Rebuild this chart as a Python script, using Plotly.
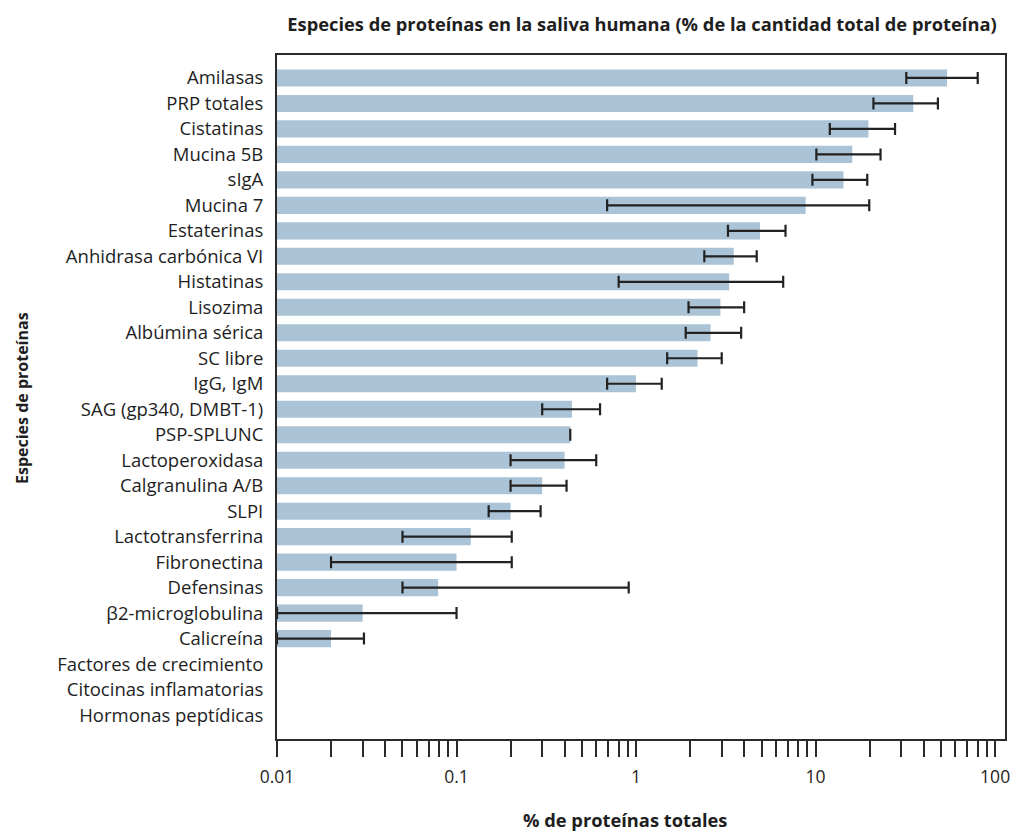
import plotly.graph_objects as go

# Protein species in human saliva (% of total protein)
especies = [
    "Amilasas", "PRP totales", "Cistatinas", "Mucina 5B", "sIgA", "Mucina 7",
    "Estaterinas", "Anhidrasa carbónica VI", "Histatinas", "Lisozima",
    "Albúmina sérica", "SC libre", "IgG, IgM", "SAG (gp340, DMBT-1)",
    "PSP-SPLUNC", "Lactoperoxidasa", "Calgranulina A/B", "SLPI",
    "Lactotransferrina", "Fibronectina", "Defensinas", "β2-microglobulina",
    "Calicreína", "Factores de crecimiento", "Citocinas inflamatorias",
    "Hormonas peptídicas",
]

# Mean percentage for each species
porcentaje = [
    54, 35, 19.7, 16, 14.3, 8.8,
    4.9, 3.5, 3.3, 2.95,
    2.6, 2.2, 1.0, 0.44,
    0.43, 0.40, 0.30, 0.20,
    0.12, 0.10, 0.079, 0.030,
    0.020, None, None,
    None,
]

# Lower and upper limits of each range
limite_inf = [
    32, 21, 12, 10.1, 9.6, 0.69,
    3.25, 2.4, 0.80, 1.96,
    1.89, 1.49, 0.69, 0.30,
    None, 0.20, 0.20, 0.151,
    0.050, 0.020, 0.050, 0.010,
    0.010, None, None,
    None,
]
limite_sup = [
    80, 48, 27.7, 23, 19.4, 19.9,
    6.8, 4.7, 6.6, 4.0,
    3.85, 3.0, 1.39, 0.63,
    None, 0.60, 0.41, 0.294,
    0.203, 0.203, 0.91, 0.10,
    0.0305, None, None,
    None,
]

ticks_x = [0.01, 0.02, 0.03, 0.04, 0.05, 0.06, 0.07, 0.08, 0.09,
           0.1, 0.2, 0.3, 0.4, 0.5, 0.6, 0.7, 0.8, 0.9,
           1, 2, 3, 4, 5, 6, 7, 8, 9,
           10, 20, 30, 40, 50, 60, 70, 80, 90, 100]
etiquetas_x = ["0.01"] + [""] * 8 + ["0.1"] + [""] * 8 + ["1"] + [""] * 8 + \
              ["10"] + [""] * 8 + ["100"]

err_plus = [(s - v) if (s is not None and v is not None) else 0
            for v, s in zip(porcentaje, limite_sup)]
err_minus = [(v - i) if (i is not None and v is not None) else 0
             for v, i in zip(porcentaje, limite_inf)]

FONT = "Open Sans"
TXT = "#1e1e1e"
LINEA = "#2a2a2a"

fig = go.Figure()
fig.add_trace(go.Bar(
    y=especies,
    x=porcentaje,
    orientation="h",
    marker=dict(color="#aac3d6", line=dict(width=0)),
    error_x=dict(
        type="data",
        symmetric=False,
        array=err_plus,
        arrayminus=err_minus,
        color="#222222",
        thickness=2.2,
        width=6,
    ),
    showlegend=False,
))

fig.update_layout(
    width=1022,
    height=831,
    margin=dict(l=277, r=12, t=55, b=92),
    paper_bgcolor="white",
    plot_bgcolor="white",
    bargap=0.33,
    font=dict(family=FONT, size=18, color=TXT),
    title=dict(
        text="<b>Especies de proteínas en la saliva humana (% de la cantidad total de proteína)</b>",
        x=642 / 1022, xanchor="center",
        y=1 - 25 / 831, yanchor="middle",
        font=dict(family=FONT, size=18.3, color=TXT),
    ),
    xaxis=dict(
        type="log",
        range=[-2, 2.055],
        tickvals=ticks_x,
        ticktext=etiquetas_x,
        ticks="outside",
        ticklen=16,
        tickwidth=2,
        tickcolor=LINEA,
        showline=True,
        linewidth=2,
        linecolor=LINEA,
        mirror=True,
        showgrid=False,
        zeroline=False,
        ticklabelstandoff=5,
        tickfont=dict(family=FONT, size=17.5, color=TXT),
    ),
    yaxis=dict(
        type="category",
        categoryorder="array",
        categoryarray=especies,
        range=[25.94, -0.9],
        showline=True,
        linewidth=2,
        linecolor=LINEA,
        mirror=True,
        showgrid=False,
        ticks="",
        ticklabelstandoff=8,
        tickfont=dict(family=FONT, size=18.5, color=TXT),
    ),
)

# X axis title
fig.add_annotation(
    text="<b>% de proteínas totales</b>",
    xref="paper", yref="paper",
    x=(627 - 277) / 733, y=-(819 - 739) / 684,
    showarrow=False,
    xanchor="center", yanchor="middle",
    font=dict(family=FONT, size=18.3, color=TXT),
)

# Y axis title
fig.add_annotation(
    text="<b>Especies de proteínas</b>",
    xref="paper", yref="paper",
    x=0, y=(739 - 398) / 684,
    xshift=-255,
    textangle=-90,
    showarrow=False,
    xanchor="center", yanchor="middle",
    font=dict(family=FONT, size=16, color=TXT),
)

fig.write_html("out.html")
